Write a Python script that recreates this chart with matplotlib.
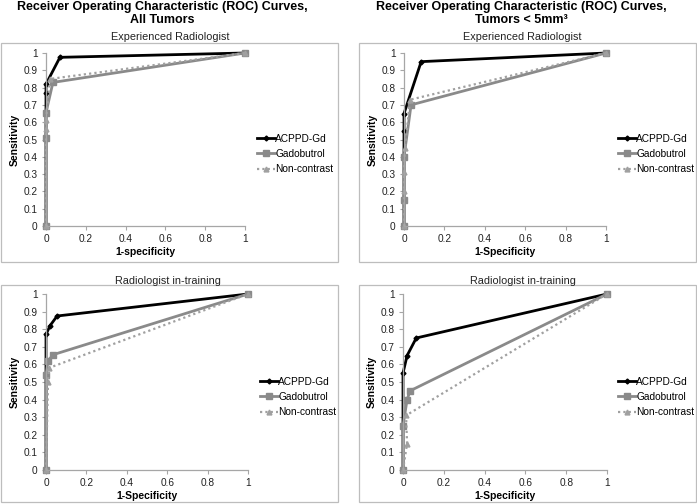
import matplotlib
matplotlib.use("Agg")
import matplotlib.pyplot as plt
from matplotlib.patches import Rectangle

plt.rcParams['font.family'] = ['Liberation Sans', 'DejaVu Sans']

W, H = 697, 504

series_names = ["ACPPD-Gd", "Gadobutrol", "Non-contrast"]

# Panel A: All tumors, experienced radiologist
a_acppd_x = [0, 0, 0, 0.07, 1]
a_acppd_y = [0, 0.77, 0.82, 0.975, 1]
a_gado_x = [0, 0, 0, 0.035, 1]
a_gado_y = [0, 0.51, 0.655, 0.83, 1]
a_non_x = [0, 0, 0, 0.02, 1]
a_non_y = [0, 0.56, 0.61, 0.85, 1]

# Panel B: Tumors < 5mm3, experienced radiologist
b_acppd_x = [0, 0, 0, 0.085, 1]
b_acppd_y = [0, 0.55, 0.65, 0.95, 1]
b_gado_x = [0, 0, 0, 0.035, 1]
b_gado_y = [0, 0.15, 0.40, 0.70, 1]
b_non_x = [0, 0, 0, 0.005, 0.03, 1]
b_non_y = [0, 0.20, 0.31, 0.45, 0.73, 1]

# Panel C: All tumors, radiologist in-training
c_acppd_x = [0, 0, 0.02, 0.055, 1]
c_acppd_y = [0, 0.77, 0.82, 0.875, 1]
c_gado_x = [0, 0, 0.01, 0.035, 1]
c_gado_y = [0, 0.54, 0.62, 0.655, 1]
c_non_x = [0, 0.01, 0.015, 1]
c_non_y = [0, 0.50, 0.58, 1]

# Panel D: Tumors < 5mm3, radiologist in-training
d_acppd_x = [0, 0, 0.02, 0.065, 1]
d_acppd_y = [0, 0.55, 0.65, 0.75, 1]
d_gado_x = [0, 0, 0.02, 0.035, 1]
d_gado_y = [0, 0.25, 0.40, 0.45, 1]
d_non_x = [0, 0.02, 0.015, 1]
d_non_y = [0, 0.15, 0.31, 1]

x_ticks = [0, 0.2, 0.4, 0.6, 0.8, 1]
x_tick_labels = ["0", "0.2", "0.4", "0.6", "0.8", "1"]
y_ticks = [0, 0.1, 0.2, 0.3, 0.4, 0.5, 0.6, 0.7, 0.8, 0.9, 1]
y_tick_labels = ["0", "0.1", "0.2", "0.3", "0.4", "0.5", "0.6", "0.7", "0.8", "0.9", "1"]

fig = plt.figure(figsize=(W / 100, H / 100), dpi=100)
fig.patch.set_facecolor("white")


def px_axes(l, t, r, b):
    return fig.add_axes([l / W, 1 - b / H, (r - l) / W, (b - t) / H])


def box(l, t, r, b):
    fig.patches.append(Rectangle((l / W, 1 - b / H), (r - l) / W, (b - t) / H,
                                 transform=fig.transFigure, fill=False,
                                 edgecolor="#bdbdbd", linewidth=0.9))


panels = [
    dict(ax=(46, 53, 245, 226), box=(1, 43, 338, 262), sub="Experienced Radiologist",
         subc=(170, 37), xl="1-specificity", leg=(257, 154),
         data=[(a_acppd_x, a_acppd_y), (a_gado_x, a_gado_y), (a_non_x, a_non_y)]),
    dict(ax=(404, 53, 606, 226), box=(359, 43, 696, 262), sub="Experienced Radiologist",
         subc=(522, 37), xl="1-Specificity", leg=(618, 154),
         data=[(b_acppd_x, b_acppd_y), (b_gado_x, b_gado_y), (b_non_x, b_non_y)]),
    dict(ax=(46, 294, 248, 470), box=(1, 285, 338, 502), sub="Radiologist in-training",
         subc=(168, 281), xl="1-Specificity", leg=(260, 397),
         data=[(c_acppd_x, c_acppd_y), (c_gado_x, c_gado_y), (c_non_x, c_non_y)]),
    dict(ax=(403, 294, 607, 470), box=(359, 285, 696, 502), sub="Radiologist in-training",
         subc=(523, 281), xl="1-Specificity", leg=(618, 397),
         data=[(d_acppd_x, d_acppd_y), (d_gado_x, d_gado_y), (d_non_x, d_non_y)]),
]

styles = [
    dict(color="black", lw=2.0, ls="-", marker="D", ms=2.5),
    dict(color="#8a8a8a", lw=2.0, ls="-", marker="s", ms=5),
    dict(color="#a0a0a0", lw=1.6, ls=(0, (1.0, 1.4)), marker="^", ms=3.5),
]

for p in panels:
    box(*p["box"])
    ax = px_axes(*p["ax"])
    handles = []
    for (xs, ys), st, name in zip(p["data"], styles, series_names):
        h, = ax.plot(xs, ys, color=st["color"], lw=st["lw"], ls=st["ls"],
                     marker=st["marker"], ms=st["ms"], mfc=st["color"],
                     mec=st["color"], clip_on=False, label=name)
        handles.append(h)
    ax.set_xlim(0, 1)
    ax.set_ylim(0, 1)
    ax.set_xticks(x_ticks)
    ax.set_xticklabels(x_tick_labels)
    ax.set_yticks(y_ticks)
    ax.set_yticklabels(y_tick_labels)
    for s in ["top", "right"]:
        ax.spines[s].set_visible(False)
    for s in ["left", "bottom"]:
        ax.spines[s].set_color("#a6a6a6")
        ax.spines[s].set_linewidth(0.9)
    ax.tick_params(labelsize=7.3, length=3, width=0.8, color="#a6a6a6",
                   labelcolor="#222222", pad=3)
    ax.set_xlabel(p["xl"], fontsize=7.5, fontweight="bold", labelpad=2)
    ax.set_ylabel("Sensitivity", fontsize=7.5, fontweight="bold", labelpad=3)
    fig.text(p["subc"][0] / W, 1 - p["subc"][1] / H, p["sub"], fontsize=7.8,
             ha="center", va="center", color="#222222")
    fig.legend(handles=handles, loc="center left",
               bbox_to_anchor=(p["leg"][0] / W, 1 - p["leg"][1] / H),
               frameon=False, fontsize=7.3, handlelength=1.8, handletextpad=0.0,
               labelspacing=0.5, borderaxespad=0, borderpad=0, numpoints=1)

fig.text(162 / W, 1 - 1 / H, "Receiver Operating Characteristic (ROC) Curves,\nAll Tumors",
         fontsize=9, fontweight="bold", ha="center", va="top", linespacing=1.1)
fig.text(521 / W, 1 - 1 / H, "Receiver Operating Characteristic (ROC) Curves,\nTumors < 5mm³",
         fontsize=9, fontweight="bold", ha="center", va="top", linespacing=1.1)

fig.savefig("out.png", dpi=100, facecolor="white")
